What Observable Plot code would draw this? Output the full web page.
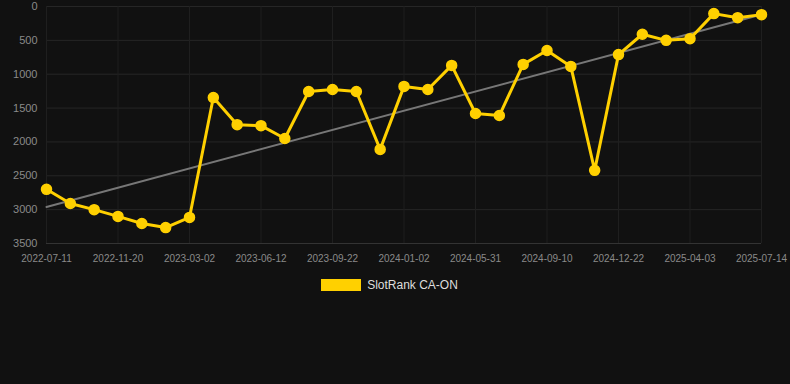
<!DOCTYPE html>
<html>
<head>
<meta charset="utf-8">
<script src="https://cdn.jsdelivr.net/npm/d3@7"></script>
<script src="https://cdn.jsdelivr.net/npm/@observablehq/plot@0.6"></script>
<style>
  html, body { margin: 0; padding: 0; background: #111111; width: 790px; height: 384px; overflow: hidden; }
  #chart svg { display: block; }
  .legend { display: flex; justify-content: center; align-items: center; margin-top: 8px; padding-right: 11px; font-family: "Liberation Sans", Arial, sans-serif; font-size: 12px; color: #dddddd; }
  .legend .sw { width: 40px; height: 12px; background: #FFD000; margin-right: 6px; }
</style>
</head>
<body>
<div id="chart"></div>
<script>
const seriesName = "SlotRank CA-ON";
const tickLabels = ["2022-07-11", "2022-11-20", "2023-03-02", "2023-06-12", "2023-09-22", "2024-01-02", "2024-05-31", "2024-09-10", "2024-12-22", "2025-04-03", "2025-07-14"];
const ranks = [2700, 2910, 3000, 3100, 3205, 3265, 3115, 1345, 1745, 1760, 1950, 1255, 1225, 1255, 2110, 1180, 1225, 870, 1580, 1610, 855, 650, 885, 2420, 710, 410, 500, 475, 105, 165, 120];
const yTicks = [0, 500, 1000, 1500, 2000, 2500, 3000, 3500];
const labelEvery = 3;

const data = ranks.map((v, i) => ({i, v}));
const xTicks = tickLabels.map((_, k) => k * labelEvery);

const chart = Plot.plot({
  width: 790,
  height: 270,
  marginLeft: 46,
  marginRight: 29,
  marginTop: 6,
  marginBottom: 27,
  style: {background: "#111111", fontFamily: "'Liberation Sans', Arial, sans-serif"},
  x: {type: "linear", domain: [0, ranks.length - 1], label: null},
  y: {domain: [0, 3500], reverse: true, label: null},
  marks: [
    Plot.gridY(yTicks, {stroke: "#262626", strokeOpacity: 1}),
    Plot.gridX(xTicks, {stroke: "#1f1f1f", strokeOpacity: 1}),
    Plot.ruleY([3500], {stroke: "#333333"}),
    Plot.axisY(yTicks, {tickSize: 0, tickPadding: 9, fill: "#8a8a8a", fontSize: 11, label: null, tickFormat: d => String(d)}),
    Plot.axisX(xTicks, {tickSize: 0, tickPadding: 11, fill: "#8a8a8a", fontSize: 10, label: null, tickFormat: d => tickLabels[d / labelEvery]}),
    Plot.linearRegressionY(data, {x: "i", y: "v", ci: 0, stroke: "#777777", strokeWidth: 2}),
    Plot.line(data, {x: "i", y: "v", stroke: "#FFD000", strokeWidth: 3}),
    Plot.dot(data, {x: "i", y: "v", r: 5, fill: "#FFD000", stroke: "#FFD000"})
  ]
});
document.getElementById("chart").append(chart);
const legend = document.createElement("div");
legend.className = "legend";
legend.innerHTML = '<div class="sw"></div><span></span>';
legend.querySelector("span").textContent = seriesName;
document.body.append(legend);
</script>
</body>
</html>
